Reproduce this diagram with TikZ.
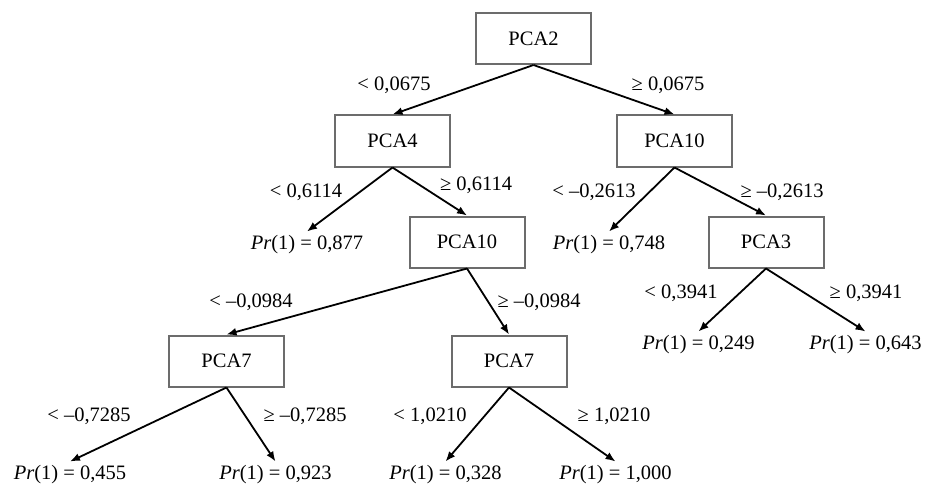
\documentclass[tikz,border=0pt]{standalone}
\usepackage{fontspec}
\setmainfont{Liberation Serif}
\usetikzlibrary{arrows.meta, positioning}
\tikzset{> = { Latex[length = 10pt, width = 8pt] }}
\tikzset{
	split/.style = {draw = gray!85!black, line width = 2pt, minimum width = 115pt, minimum height = 51pt, inner sep = 0pt},
	leaf/.style = {inner sep = 4pt},
	cond/.style = {inner sep = 0pt},
	branch/.style = {->, line width = 1.8pt},
}

\begin{document}
\begin{tikzpicture}[x = 1pt, y = -1pt, font = \fontsize{20.5}{24}\selectfont]
		\useasboundingbox (0, 0) rectangle (928, 484);

		% splits
		\node [split] (pca2) at (533.5, 38.5) {PCA2};
		\node [split] (pca4) at (392.5, 141) {PCA4};
		\node [split] (pca10r) at (674.5, 141) {PCA10};
		\node [split] (pca10l) at (467, 242) {PCA10};
		\node [split] (pca3) at (766, 242) {PCA3};
		\node [split] (pca7l) at (226.5, 361) {PCA7};
		\node [split] (pca7r) at (509, 361) {PCA7};

		% leaves
		\node [leaf] (p877) at (307, 245) {\textit{Pr}(1) = 0,877};
		\node [leaf] (p748) at (609, 245) {\textit{Pr}(1) = 0,748};
		\node [leaf] (p249) at (698.5, 345) {\textit{Pr}(1) = 0,249};
		\node [leaf] (p643) at (865.5, 345) {\textit{Pr}(1) = 0,643};
		\node [leaf] (p455) at (70, 475) {\textit{Pr}(1) = 0,455};
		\node [leaf] (p923) at (275.5, 475) {\textit{Pr}(1) = 0,923};
		\node [leaf] (p328) at (445.5, 475) {\textit{Pr}(1) = 0,328};
		\node [leaf] (p1000) at (615.5, 475) {\textit{Pr}(1) = 1,000};

		% branches
		\draw [branch] (pca2.south) -- (pca4.north);
		\draw [branch] (pca2.south) -- (pca10r.north);
		\draw [branch] (pca4.south) -- (p877.north);
		\draw [branch] (pca4.south) -- (pca10l.north);
		\draw [branch] (pca10r.south) -- (p748.north);
		\draw [branch] (pca10r.south) -- (pca3.north);
		\draw [branch] (pca10l.south) -- (pca7l.north);
		\draw [branch] (pca10l.south) -- (pca7r.north);
		\draw [branch] (pca3.south) -- (p249.north);
		\draw [branch] (pca3.south) -- (p643.north);
		\draw [branch] (pca7l.south) -- (p455.north);
		\draw [branch] (pca7l.south) -- (p923.north);
		\draw [branch] (pca7r.south) -- (p328.north);
		\draw [branch] (pca7r.south) -- (p1000.north);

		% conditions
		\node [cond] (c2l) at (394, 85) {< 0,0675};
		\node [cond] (c2r) at (668, 85) {≥ 0,0675};
		\node [cond] (c4l) at (306, 192) {< 0,6114};
		\node [cond] (c4r) at (476, 185) {≥ 0,6114};
		\node [cond] (c10rl) at (594, 192) {< –0,2613};
		\node [cond] (c10rr) at (782, 192) {≥ –0,2613};
		\node [cond] (c10ll) at (251, 302) {< –0,0984};
		\node [cond] (c10lr) at (539, 302) {≥ –0,0984};
		\node [cond] (c3l) at (681, 293) {< 0,3941};
		\node [cond] (c3r) at (866, 293) {≥ 0,3941};
		\node [cond] (c7ll) at (89, 416) {< –0,7285};
		\node [cond] (c7lr) at (305, 416) {≥ –0,7285};
		\node [cond] (c7rl) at (430, 416) {< 1,0210};
		\node [cond] (c7rr) at (614, 416) {≥ 1,0210};
	\end{tikzpicture}
\end{document}
